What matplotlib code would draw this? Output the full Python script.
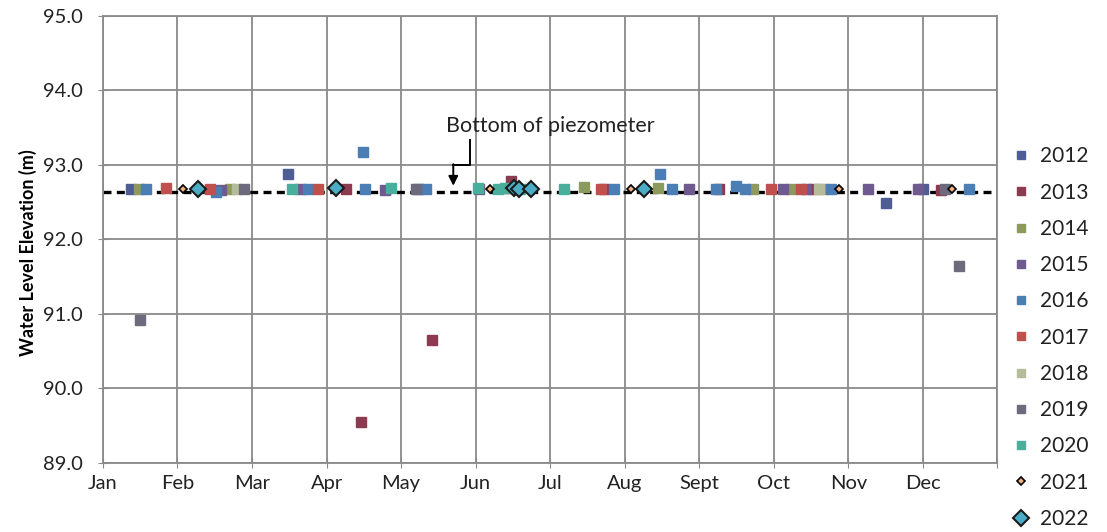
import numpy as np
import matplotlib.pyplot as plt
from matplotlib.lines import Line2D

plt.rcParams['font.family'] = ['Lato', 'DejaVu Sans']

months = ["Jan", "Feb", "Mar", "Apr", "May", "Jun", "Jul", "Aug", "Sept", "Oct", "Nov", "Dec"]
bottom_elev = 92.64

# x = fraction of the year in months (0 = 1 Jan), y = water level (m)
wl_2012_x = [0.37, 2.48, 4.23, 10.50, 11.00]
wl_2012_y = [92.67, 92.88, 92.67, 92.49, 92.68]
wl_2013_x = [3.26, 3.46, 4.42, 5.47, 6.72, 8.26, 9.52, 11.24]
wl_2013_y = [92.67, 89.55, 90.65, 92.78, 92.68, 92.68, 92.67, 92.66]
wl_2014_x = [0.48, 1.71, 6.45, 7.44, 8.72, 9.23, 9.66]
wl_2014_y = [92.68, 92.68, 92.71, 92.69, 92.68, 92.68, 92.68]
wl_2015_x = [1.58, 2.65, 3.79, 5.04, 7.86, 9.12, 9.43, 10.26, 10.93]
wl_2015_y = [92.66, 92.67, 92.66, 92.68, 92.68, 92.68, 92.67, 92.67, 92.68]
wl_2016_x = [0.58, 1.51, 2.75, 3.49, 3.52, 4.33, 6.85, 7.48, 7.64, 8.22, 8.49, 8.62, 9.77, 11.62]
wl_2016_y = [92.67, 92.64, 92.67, 93.18, 92.67, 92.67, 92.68, 92.88, 92.68, 92.67, 92.72, 92.68, 92.68, 92.68]
wl_2017_x = [0.84, 1.44, 2.88, 6.68, 8.96, 9.36]
wl_2017_y = [92.69, 92.67, 92.68, 92.68, 92.68, 92.68]
wl_2018_x = [1.80, 9.60]
wl_2018_y = [92.68, 92.67]
wl_2019_x = [0.50, 1.89, 4.20, 11.30, 11.48]
wl_2019_y = [90.92, 92.67, 92.67, 92.67, 91.64]
wl_2020_x = [2.54, 3.86, 5.03, 5.30, 5.40, 5.60, 6.18]
wl_2020_y = [92.68, 92.69, 92.69, 92.68, 92.69, 92.68, 92.68]
wl_2021_x = [1.07, 5.19, 7.08, 9.87, 11.39]
wl_2021_y = [92.67, 92.68, 92.68, 92.68, 92.68]
wl_2022_x = [1.27, 3.13, 5.51, 5.58, 5.74, 7.26]
wl_2022_y = [92.68, 92.69, 92.69, 92.68, 92.68, 92.68]

series = [
    ("2012", wl_2012_x, wl_2012_y, "s", "#4E5D94"),
    ("2013", wl_2013_x, wl_2013_y, "s", "#8C3A50"),
    ("2014", wl_2014_x, wl_2014_y, "s", "#8C9A5E"),
    ("2015", wl_2015_x, wl_2015_y, "s", "#6E5A8E"),
    ("2016", wl_2016_x, wl_2016_y, "s", "#4A7EB5"),
    ("2017", wl_2017_x, wl_2017_y, "s", "#C0504D"),
    ("2018", wl_2018_x, wl_2018_y, "s", "#B5BC9A"),
    ("2019", wl_2019_x, wl_2019_y, "s", "#6C6A7C"),
    ("2020", wl_2020_x, wl_2020_y, "s", "#4AAE9C"),
]

fig = plt.figure(figsize=(11.07, 5.32), dpi=100)
ax = fig.add_axes([0.093, 0.13, 0.808, 0.84])

ax.plot([0, 12], [bottom_elev, bottom_elev], color="black", lw=2.4,
        dashes=(2.4, 1.6), zorder=2)

handles = []
for name, xs, ys, mk, col in series:
    ax.plot(xs, ys, ls="none", marker=mk, ms=6.5, color=col, mec=col, zorder=3)
    handles.append(Line2D([], [], ls="none", marker=mk, ms=6, color=col, mec=col, label=name))

ax.plot(wl_2021_x, wl_2021_y, ls="none", marker="D", ms=4.5, mfc="#F4B183",
        mec="black", mew=1.2, zorder=4)
handles.append(Line2D([], [], ls="none", marker="D", ms=4.5, mfc="#F4B183",
                      mec="black", mew=1.2, label="2021"))
ax.plot(wl_2022_x, wl_2022_y, ls="none", marker="D", ms=8.5, mfc="#4BACC6",
        mec="#1a1a1a", mew=1.5, zorder=5)
handles.append(Line2D([], [], ls="none", marker="D", ms=8, mfc="#4BACC6",
                      mec="#1a1a1a", mew=1.5, label="2022"))

ax.set_xlim(0, 12)
ax.set_ylim(89, 95)
ax.set_xticks(np.arange(13))
ax.set_xticklabels(months + [""])
ax.set_yticks(np.arange(89, 95.5, 1))
ax.set_yticklabels([f"{v:.1f}" for v in np.arange(89, 95.5, 1)])
ax.grid(True, color="#8a8a8a", lw=1.3)
ax.set_axisbelow(True)
for s in ax.spines.values():
    s.set_color("#8a8a8a")
    s.set_linewidth(1.3)
ax.tick_params(direction="inout", length=7, color="#8a8a8a", labelsize=14.5,
               labelcolor="#222222")
ax.tick_params(axis="x", pad=5)
ax.tick_params(axis="y", pad=11)
ax.set_ylabel("Water Level Elevation (m)", fontsize=13, fontweight="bold")
ax.yaxis.set_label_coords(-0.074, 0.47)

# annotation for the piezometer bottom
ax.text(6.0, 93.52, "Bottom of piezometer", fontsize=15.5, ha="center", va="center",
        color="#222222")
ax.plot([4.93, 4.93, 4.70], [93.33, 93.0, 93.0], color="black", lw=1.4, zorder=6)
ax.annotate("", xy=(4.70, 92.72), xytext=(4.70, 93.01),
            arrowprops=dict(arrowstyle="-|>", color="black", lw=1.4,
                            mutation_scale=14, shrinkA=0, shrinkB=0), zorder=6)

fig.legend(handles=handles, loc="upper left", bbox_to_anchor=(0.894, 0.76),
           frameon=False, fontsize=15, labelspacing=0.78, handletextpad=0.3,
           handlelength=1.2, labelcolor="#222222")

fig.savefig("out.png", dpi=100)
